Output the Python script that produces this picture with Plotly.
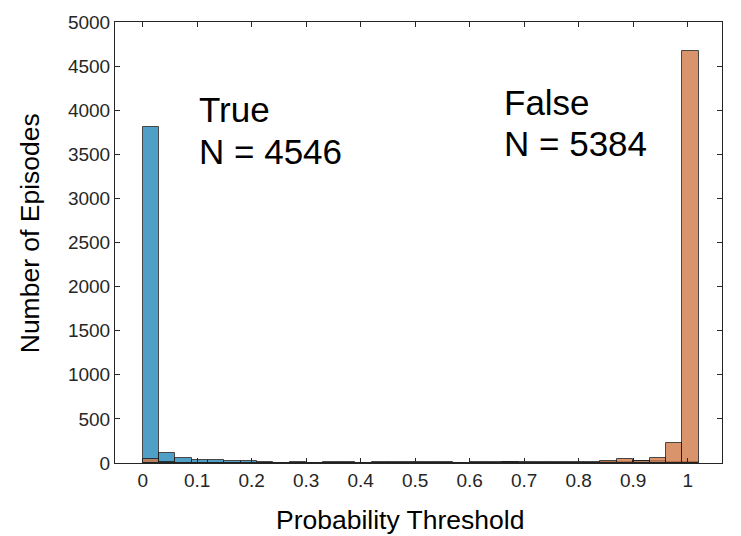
import plotly.graph_objects as go

# Histogram of predicted probabilities, bins of width 0.03 from 0 to 1.02
bin_width = 0.03
bin_starts = [round(i * bin_width, 2) for i in range(34)]

true_counts = [3811, 118, 58, 36, 34, 20, 18, 8, 5, 12, 4, 6, 16, 3, 10, 8, 4,
               3, 2, 3, 5, 3, 12, 2, 4, 3, 2, 4, 6, 10, 20, 18, 15, 10]
false_counts = [45, 8, 5, 4, 3, 3, 2, 3, 2, 3, 2, 3, 2, 3, 4, 5, 6,
                8, 6, 5, 8, 15, 10, 8, 14, 14, 14, 12, 18, 41, 26, 53, 227, 4675]

x_ticks = [0, 0.1, 0.2, 0.3, 0.4, 0.5, 0.6, 0.7, 0.8, 0.9, 1]
x_tick_labels = ["0", "0.1", "0.2", "0.3", "0.4", "0.5", "0.6", "0.7", "0.8", "0.9", "1"]
y_ticks = [0, 500, 1000, 1500, 2000, 2500, 3000, 3500, 4000, 4500, 5000]

centers = [s + bin_width / 2 for s in bin_starts]
font_family = "Liberation Sans, Arial, sans-serif"
ink = "#262626"

fig = go.Figure()
fig.add_trace(go.Bar(
    x=centers, y=true_counts, width=bin_width, name="True",
    marker=dict(color="#2488BA", opacity=0.8,
                line=dict(color="#1a1a1a", width=1)),
))
fig.add_trace(go.Bar(
    x=centers, y=false_counts, width=bin_width, name="False",
    marker=dict(color="#D27A48", opacity=0.8,
                line=dict(color="#1a1a1a", width=1)),
))

fig.update_layout(
    width=741, height=536,
    margin=dict(l=115, r=19, t=16, b=73),
    paper_bgcolor="white", plot_bgcolor="white",
    barmode="overlay", bargap=0, showlegend=False,
    font=dict(family=font_family, color=ink),
)

fig.update_xaxes(
    range=[-0.0508, 1.063],
    tickmode="array", tickvals=x_ticks, ticktext=x_tick_labels,
    ticks="inside", ticklen=5, tickcolor=ink, tickwidth=1,
    tickfont=dict(size=19, color=ink),
    showline=True, linecolor=ink, linewidth=1, mirror="ticks",
    showgrid=False, zeroline=False,
)
fig.update_yaxes(
    range=[0, 5000],
    tickmode="array", tickvals=y_ticks,
    ticks="inside", ticklen=5, tickcolor=ink, tickwidth=1,
    tickfont=dict(size=19, color=ink),
    showline=True, linecolor=ink, linewidth=1, mirror="ticks",
    showgrid=False, zeroline=False,
)

# Axis titles
title_font = dict(size=26.5, color="black", family=font_family)
fig.add_annotation(x=0.4695, y=-0.13, xref="paper", yref="paper",
                   xanchor="center", yanchor="middle", showarrow=False,
                   text="Probability Threshold", font=title_font)
fig.add_annotation(x=-0.14, y=0.521, xref="paper", yref="paper",
                   xanchor="center", yanchor="middle", showarrow=False,
                   textangle=-90, text="Number of Episodes", font=title_font)

# Class labels with totals
label_font = dict(size=35, color="black", family=font_family)
for x, y, txt in [(0.0995, 4251, "True"), (0.0995, 3780, "N = 4546"),
                  (0.66, 4329, "False"), (0.66, 3870, "N = 5384")]:
    fig.add_annotation(x=x, y=y, xref="x", yref="y", xanchor="left", yanchor="top",
                       text=txt, showarrow=False, align="left", font=label_font)

fig.write_html("out.html")
